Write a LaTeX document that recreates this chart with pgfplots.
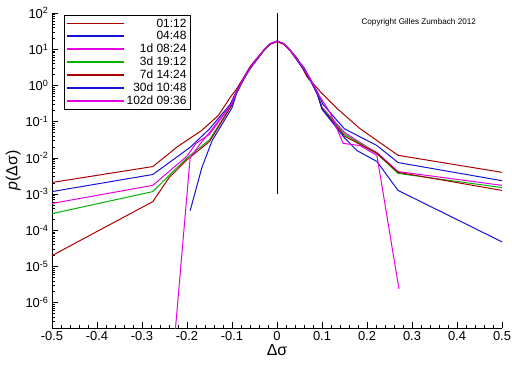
\documentclass[border=0pt]{standalone}
\usepackage{fontspec}
\setmainfont{Liberation Sans}
\usepackage{pgfplots}
\pgfplotsset{compat=1.18}
\definecolor{cdred}{RGB}{170,0,0}
\definecolor{cblue}{RGB}{20,20,210}
\definecolor{cmag}{RGB}{230,0,230}
\definecolor{cgreen}{RGB}{0,180,0}
\begin{document}
\begin{tikzpicture}
\useasboundingbox (-52bp,-38bp) rectangle (460bp,328bp);
\begin{axis}[
  at={(0,0)}, anchor=south west,
  scale only axis, width=450bp, height=315bp,
  ymode=log, log basis y=10,
  xmin=-0.5, xmax=0.5, ymin=2e-7, ymax=100,
  axis x line*=bottom, axis y line*=left,
  axis line style={line width=0.8bp},
  xtick={-0.5,-0.4,...,0.5},
  minor x tick num=4,
  ytick={1e-6,1e-5,1e-4,1e-3,1e-2,1e-1,1,10,100},
  minor ytick={2e-7,3e-7,4e-7,5e-7,6e-7,7e-7,8e-7,9e-7,
    2e-6,3e-6,4e-6,5e-6,6e-6,7e-6,8e-6,9e-6,
    2e-5,3e-5,4e-5,5e-5,6e-5,7e-5,8e-5,9e-5,
    2e-4,3e-4,4e-4,5e-4,6e-4,7e-4,8e-4,9e-4,
    2e-3,3e-3,4e-3,5e-3,6e-3,7e-3,8e-3,9e-3,
    0.02,0.03,0.04,0.05,0.06,0.07,0.08,0.09,
    0.2,0.3,0.4,0.5,0.6,0.7,0.8,0.9,
    2,3,4,5,6,7,8,9,20,30,40,50,60,70,80,90},
  tick align=inside,
  major tick length=6bp, minor tick length=3bp,
  tick style={black, line width=0.6bp},
  /pgf/number format/assume math mode=true,
  xticklabel style={/pgf/number format/fixed,/pgf/number format/precision=1},
  yticklabel={10\textsuperscript{\pgfmathprintnumber[assume math mode=true,fixed,precision=0]{\tick}}},
  tick label style={font=\fontsize{13}{15}\selectfont},
  xlabel={Δσ}, ylabel={\textit{p}(Δσ)},
  label style={font=\fontsize{16}{18}\selectfont},
  xlabel style={yshift=3bp},
  ylabel style={yshift=-2bp},
  legend style={at={(rel axis cs:0.027,0.994)}, anchor=north west,
    draw, line width=0.6bp, font=\fontsize{12}{13}\selectfont,
    row sep=-1.2bp, inner sep=1.5bp},
  legend cell align=right,
  legend image code/.code={\draw[#1, line width=1.7bp] (0bp,0bp) -- (57bp,0bp);},
  every axis plot/.append style={line width=1bp},
]
\addplot[color=cdred] coordinates {(-0.5,2.09e-3) (-0.276,5.75e-3) (-0.22,0.0209) (-0.167,0.0575) (-0.13,0.15) (-0.104,0.468) (-0.09,0.79) (-0.075,1.6) (-0.06,3.3) (-0.045,5.6) (-0.03,9.3) (-0.015,14.1) (0,16.2) (0.015,14.1) (0.03,9.3) (0.045,5.6) (0.067,1.7) (0.1,0.6) (0.133,0.234) (0.184,0.0646) (0.222,0.0302) (0.269,0.01175) (0.5,3.98e-3)};
\addlegendentry{01:12}
\addplot[color=cblue] coordinates {(-0.5,1.17e-3) (-0.276,3.47e-3) (-0.193,0.0195) (-0.15,0.063) (-0.104,0.3) (-0.09,0.7) (-0.075,1.5) (-0.06,3.1) (-0.045,5.3) (-0.03,9.1) (-0.015,14.1) (0,16.6) (0.015,14.1) (0.03,9.1) (0.045,5.3) (0.06,3.1) (0.075,1.45) (0.09,0.65) (0.102,0.3) (0.15,0.0631) (0.222,0.0219) (0.269,7.41e-3) (0.5,2.34e-3)};
\addlegendentry{04:48}
\addplot[color=cmag] coordinates {(-0.5,5.5e-4) (-0.276,1.74e-3) (-0.2,0.0112) (-0.18,0.0251) (-0.15,0.0447) (-0.1,0.32) (-0.09,0.646) (-0.075,1.48) (-0.06,3.02) (-0.045,5.25) (-0.03,9.1) (-0.015,14.1) (0,16.6) (0.015,14.1) (0.03,9.1) (0.045,5.0) (0.06,2.8) (0.075,1.4) (0.09,0.6) (0.1,0.25) (0.15,0.0501) (0.2,0.02) (0.222,0.0141) (0.269,4.17e-3) (0.5,1.74e-3)};
\addlegendentry{1d 08:24}
\addplot[color=cgreen] coordinates {(-0.5,2.88e-4) (-0.276,1.17e-3) (-0.2,0.01) (-0.15,0.0316) (-0.1,0.3) (-0.09,0.63) (-0.075,1.45) (-0.06,2.95) (-0.045,5.15) (-0.03,9.0) (-0.015,14.0) (0,16.4) (0.015,14.0) (0.03,9.0) (0.045,4.9) (0.06,2.75) (0.075,1.35) (0.09,0.58) (0.1,0.24) (0.15,0.0447) (0.222,0.0132) (0.269,3.72e-3) (0.5,1.51e-3)};
\addlegendentry{3d 19:12}
\addplot[color=cdred] coordinates {(-0.5,2.0e-5) (-0.276,6.17e-4) (-0.24,2.82e-3) (-0.2,8.91e-3) (-0.15,0.0282) (-0.1,0.29) (-0.09,0.62) (-0.075,1.42) (-0.06,2.9) (-0.045,5.1) (-0.03,8.9) (-0.015,13.8) (0,16.2) (0.015,13.8) (0.03,8.9) (0.045,4.9) (0.06,2.7) (0.075,1.35) (0.09,0.57) (0.1,0.23) (0.15,0.0398) (0.222,0.0132) (0.269,3.98e-3) (0.5,1.26e-3)};
\addlegendentry{7d 14:24}
\addplot[color=cblue] coordinates {(-0.193,3.47e-4) (-0.167,5.37e-3) (-0.144,0.0302) (-0.1,0.24) (-0.09,0.6) (-0.075,1.4) (-0.06,2.9) (-0.045,5.1) (-0.03,9.0) (-0.015,14.1) (0,16.8) (0.015,14.1) (0.03,9.0) (0.045,4.9) (0.06,2.7) (0.075,1.3) (0.09,0.55) (0.1,0.22) (0.15,0.0355) (0.178,0.0158) (0.222,7.94e-3) (0.269,1.26e-3) (0.5,4.79e-5)};
\addlegendentry{30d 10:48}
\addplot[color=cmag] coordinates {(-0.229,6.3e-8) (-0.193,0.0102) (-0.17,0.0251) (-0.15,0.0501) (-0.1,0.32) (-0.09,0.65) (-0.075,1.5) (-0.06,3.0) (-0.045,5.3) (-0.03,9.2) (-0.015,14.3) (0,16.8) (0.015,14.3) (0.03,9.2) (0.045,5.1) (0.06,2.85) (0.075,1.4) (0.09,0.62) (0.118,0.178) (0.147,0.0251) (0.184,0.0219) (0.222,0.0117) (0.271,2.4e-6)};
\addlegendentry{102d 09:36}
\addplot[draw=black, line width=0.8bp, forget plot] coordinates {(0,1e-3) (0,100)};
\node[font=\fontsize{8.2}{10}\selectfont, anchor=north] at (rel axis cs:0.815,0.995) {Copyright Gilles Zumbach 2012};
\end{axis}
\end{tikzpicture}
\end{document}
